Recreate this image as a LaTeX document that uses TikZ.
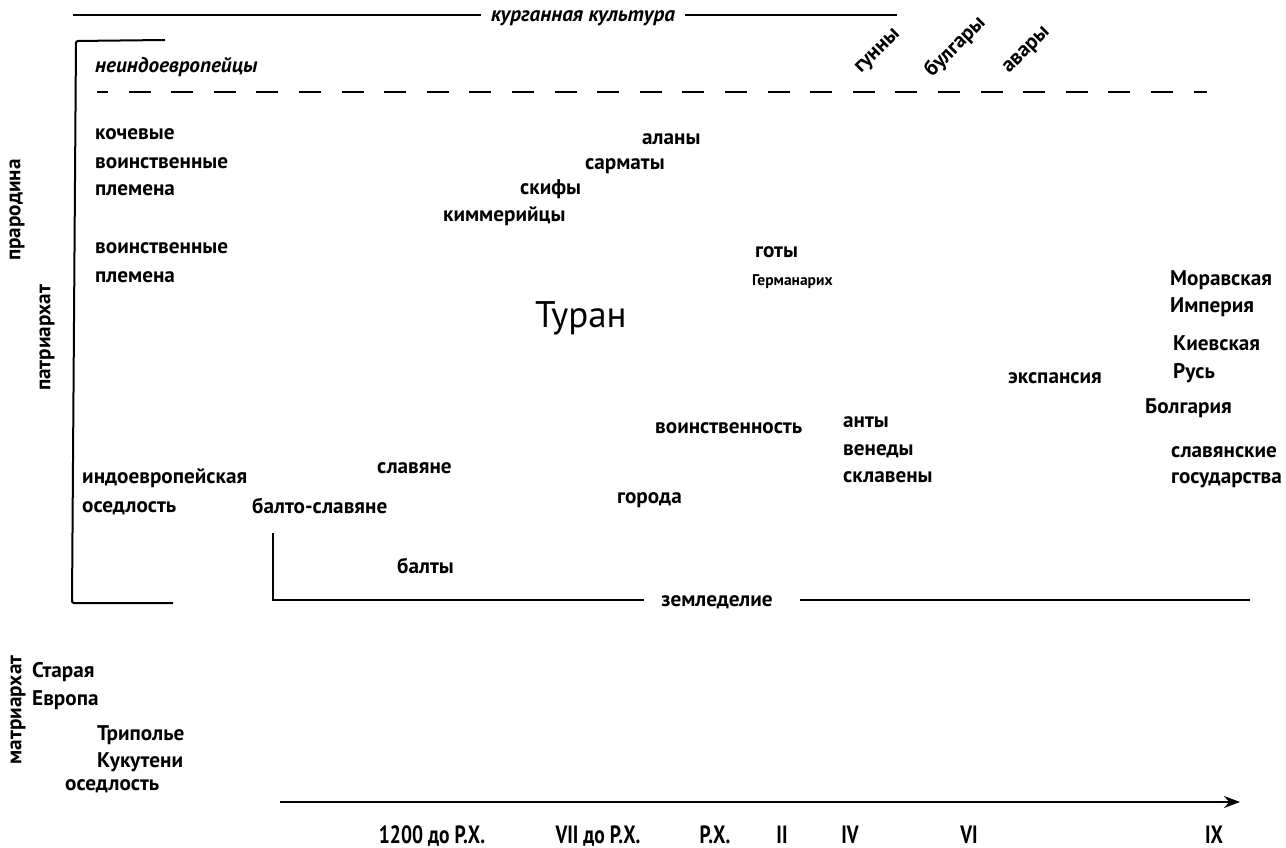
\documentclass[tikz,border=0pt]{standalone}
\usepackage{fontspec}
\setmainfont{PT Sans}
\usetikzlibrary{arrows.meta}
\begin{document}
\begin{tikzpicture}[x=1pt,y=-1pt,
  lbl/.style={inner sep=0pt, anchor=base west, font=\fontsize{21.2}{25}\selectfont\bfseries},
  ital/.style={inner sep=0pt, anchor=base west, font=\fontsize{21.2}{25}\selectfont\bfseries\itshape},
  small/.style={inner sep=0pt, anchor=base west, font=\fontsize{15.5}{19}\selectfont\bfseries},
  big/.style={inner sep=0pt, anchor=base west, font=\fontsize{37}{42}\selectfont},
  side/.style={inner sep=0pt, rotate=90, font=\fontsize{21.2}{25}\selectfont\bfseries},
  slant/.style={inner sep=0pt, anchor=base west, rotate=45, font=\fontsize{21.2}{25}\selectfont\bfseries},
  tick/.style={inner sep=0pt, anchor=base, xscale=0.78, font=\fontsize{25}{30}\selectfont\bfseries},
  rule/.style={line width=2pt},
]
\useasboundingbox (0,0) rectangle (1286,848);

% kurgan culture band
\node[ital, anchor=base, inner xsep=10pt] (kurg) at (583,22) {курганная культура};
\coordinate (kL) at (73,15);
\coordinate (kR) at (897,15);
\draw[rule] (kL) -- (kL -| kurg.west);
\draw[rule] (kR -| kurg.east) -- (kR);

% outer bracket
\draw[rule, rounded corners=2pt] (165,40) -- (76,41) -- (72,603) -- (173,603);

% boundary of the non-Indo-European zone
\coordinate (dL) at (97,92);
\coordinate (dR) at (1207,92);
\draw[rule, dash pattern=on 22pt off 20.6pt, dash phase=11pt] (dL) -- (dR);

\node[ital] (neindo) at (95,73) {неиндоевропейцы};
\node[slant] (gunny) at (861,74) {гунны};
\node[slant] (bulgary) at (932,78) {булгары};
\node[slant] (avary) at (1009,74) {авары};

% side captions
\node[side] (prarod) at (17,210) {прародина};
\node[side] (patr) at (47,338) {патриархат};
\node[side] (matr) at (18,710) {матриархат};

% left column
\node[lbl] (koch) at (95,140) {кочевые};
\node[lbl] (voin1) at (95,168) {воинственные};
\node[lbl] (plem1) at (95,196) {племена};
\node[lbl] (voin2) at (95,253) {воинственные};
\node[lbl] (plem2) at (95,282) {племена};

% steppe peoples
\node[lbl] (alany) at (642,145) {аланы};
\node[lbl] (sarm) at (585,170) {сарматы};
\node[lbl] (skify) at (520,195) {скифы};
\node[lbl] (kimm) at (443,222) {киммерийцы};
\node[lbl] (goty) at (755,257) {готы};
\node[small] (german) at (752,285) {Германарих};
\node[big] (turan) at (535,327) {Туран};

% states
\node[lbl] (morav) at (1170,285) {Моравская};
\node[lbl] (imper) at (1170,312) {Империя};
\node[lbl] (kiev) at (1173,350) {Киевская};
\node[lbl] (rus) at (1173,378) {Русь};
\node[lbl] (ekspan) at (1008,383) {экспансия};
\node[lbl] (bolg) at (1145,413) {Болгария};
\node[lbl] (slavgos) at (1171,457) {славянские};
\node[lbl] (gos) at (1171,483) {государства};

% settled peoples
\node[lbl] (voinst) at (655,433) {воинственность};
\node[lbl] (anty) at (843,427) {анты};
\node[lbl] (venedy) at (843,455) {венеды};
\node[lbl] (sklav) at (843,482) {склавены};
\node[lbl] (indo) at (82,483) {индоевропейская};
\node[lbl] (osedl) at (82,512) {оседлость};
\node[lbl] (slavyane) at (377,473) {славяне};
\node[lbl] (balto) at (252,513) {балто-славяне};
\node[lbl] (goroda) at (617,503) {города};
\node[lbl] (balty) at (397,573) {балты};

% agriculture band
\node[lbl, anchor=base, inner xsep=17pt] (zem) at (717,606) {земледелие};
\coordinate (zTop) at (273,533);
\coordinate (zEnd) at (1250,600);
\draw[rule] (zTop) -- (zTop |- zEnd) -- (zEnd -| zem.west);
\draw[rule] (800,600) -- (zEnd);

% Old Europe
\node[lbl] (staraya) at (32,677) {Старая};
\node[lbl] (evropa) at (32,705) {Европа};
\node[lbl] (tripol) at (97,740) {Триполье};
\node[lbl] (kukut) at (97,767) {Кукутени};
\node[lbl] (osedl2) at (65,790) {оседлость};

% time axis
\coordinate (ax0) at (280,802);
\coordinate (ax1) at (1240,802);
\draw[rule, -{Stealth[length=16pt, width=12pt]}] (ax0) -- (ax1);
\node[tick] (t1200) at (432,843) {1200 до Р.Х.};
\node[tick] (t7) at (598,843) {VII до Р.Х.};
\node[tick] (trx) at (715,843) {Р.Х.};
\node[tick] (t2) at (782,843) {II};
\node[tick] (t4) at (850,843) {IV};
\node[tick] (t6) at (969,843) {VI};
\node[tick] (t9) at (1214,843) {IX};
\end{tikzpicture}
\end{document}
